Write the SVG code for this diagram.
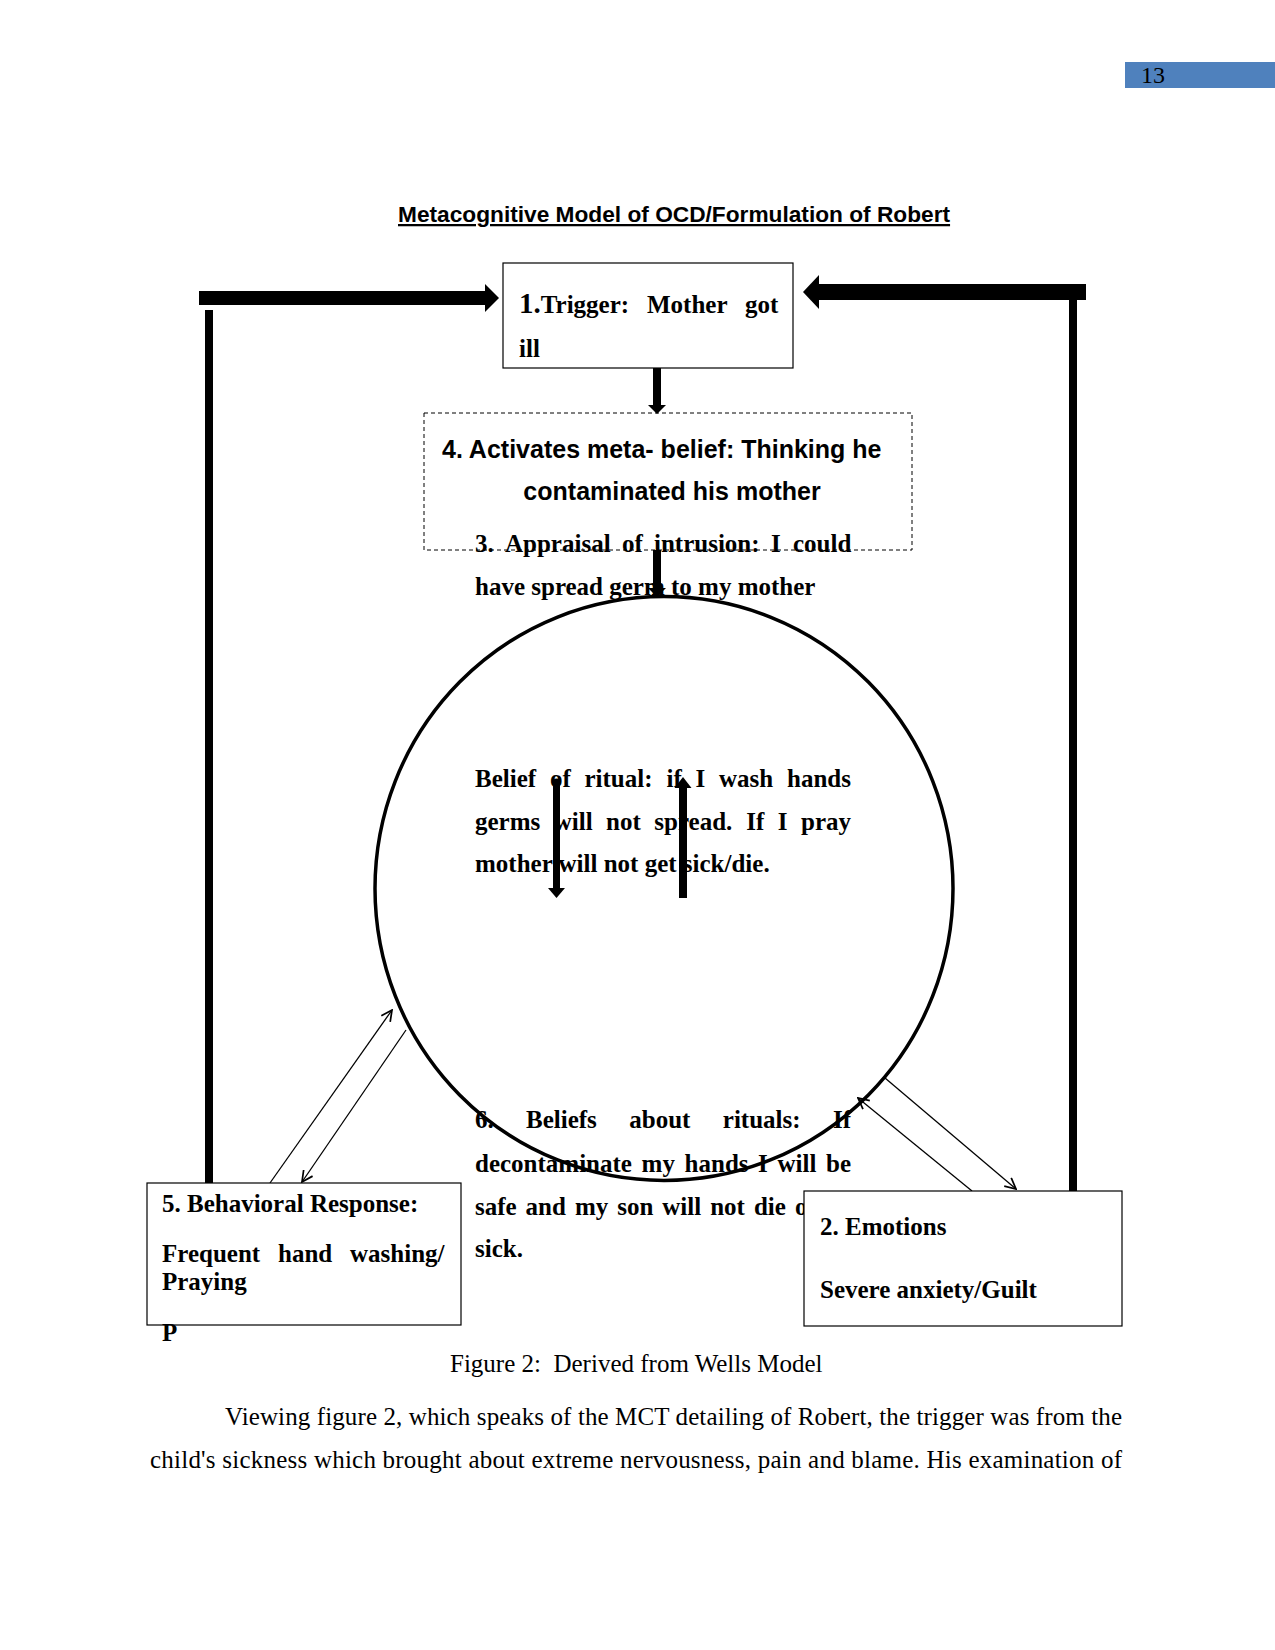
<svg xmlns="http://www.w3.org/2000/svg" width="1275" height="1650" viewBox="0 0 1275 1650">
<defs>
<style>
.sb{font-family:"Liberation Serif","Times New Roman",serif;font-weight:bold;font-size:25px;fill:#000}
.sr{font-family:"Liberation Serif","Times New Roman",serif;font-size:25px;fill:#000}
.ab{font-family:"Liberation Sans",Arial,sans-serif;font-weight:bold;font-size:25px;fill:#000}
.box{fill:#fff;stroke:#000;stroke-width:1.2}
.thin{fill:none;stroke:#000;stroke-width:1.3}
.bar{fill:#000}
</style>
<marker id="open" viewBox="0 0 12 12" refX="11" refY="6" markerWidth="13" markerHeight="13" markerUnits="userSpaceOnUse" orient="auto">
<path d="M1,1 L11,6 L1,11" fill="none" stroke="#000" stroke-width="1.6"/>
</marker>
</defs>
<rect width="1275" height="1650" fill="#fff"/>

<g id="page-number">
<rect x="1125" y="62" width="150" height="26" fill="#4F81BD"/>
<text x="1141" y="83" class="sr" style="font-size:24px">13</text>
</g>

<g id="title">
<text x="398" y="222" class="ab" style="font-size:22.7px;text-decoration:underline">Metacognitive Model of OCD/Formulation of Robert</text>
</g>

<g id="node-metabelief">
<rect x="424" y="413" width="488" height="137" fill="none" stroke="#000" stroke-width="1" stroke-dasharray="4 3"/>
<text x="442" y="458" class="ab">4. Activates meta- belief: Thinking he</text>
<text x="672" y="500" class="ab" text-anchor="middle">contaminated his mother</text>
</g>

<g id="node-appraisal" class="sb">
<text x="475" y="552">3.</text>
<text x="505" y="552">Appraisal</text>
<text x="622" y="552">of</text>
<text x="654" y="552">intrusion:</text>
<text x="771" y="552">I</text>
<text x="793" y="552">could</text>
<text x="475" y="595">have spread germ to my mother</text>
</g>

<g id="node-ritual-belief" class="sb">
<text x="475" y="787">Belief</text>
<text x="550" y="787">of</text>
<text x="584.5" y="787">ritual:</text>
<text x="666.5" y="787">if</text>
<text x="695.5" y="787">I</text>
<text x="719" y="787">wash</text>
<text x="787" y="787">hands</text>
<text x="475" y="830">germs</text>
<text x="553.7" y="830">will</text>
<text x="606" y="830">not</text>
<text x="654.3" y="830">spread.</text>
<text x="746.3" y="830">If</text>
<text x="777.8" y="830">I</text>
<text x="801" y="830">pray</text>
<text x="475" y="872">mother will not get sick/die.</text>
</g>

<g id="node-rituals-beliefs" class="sb">
<text x="475" y="1128">6.</text>
<text x="526" y="1128">Beliefs</text>
<text x="629.3" y="1128">about</text>
<text x="722.8" y="1128">rituals:</text>
<text x="833" y="1128">If</text>
<text x="475" y="1172">decontaminate</text>
<text x="641.6" y="1172">my</text>
<text x="684.6" y="1172">hands</text>
<text x="758" y="1172">I</text>
<text x="777.5" y="1172">will</text>
<text x="826" y="1172">be</text>
<text x="475" y="1215">safe</text>
<text x="525.6" y="1215">and</text>
<text x="574.9" y="1215">my</text>
<text x="617.2" y="1215">son</text>
<text x="662.3" y="1215">will</text>
<text x="710.2" y="1215">not</text>
<text x="753.9" y="1215">die</text>
<text x="794.9" y="1215">or</text>
<text x="475" y="1257">sick.</text>
</g>

<g id="node-circle">
<ellipse cx="664" cy="888.5" rx="289" ry="292" fill="none" stroke="#000" stroke-width="3.5"/>
</g>

<g id="connectors">
<rect class="bar" x="199" y="291" width="287" height="14"/>
<polygon class="bar" points="485,284 499,298 485,312"/>
<rect class="bar" x="205" y="310" width="8" height="873"/>
<rect class="bar" x="818" y="284" width="268" height="16"/>
<polygon class="bar" points="819,275 803,292 819,309"/>
<rect class="bar" x="1069" y="300" width="8" height="891"/>
<rect class="bar" x="653" y="368" width="8" height="38"/>
<polygon class="bar" points="648,405 666,405 657,414"/>
<rect class="bar" x="653" y="550" width="8" height="39"/>
<polygon class="bar" points="648,588 666,588 657,597"/>
<rect class="bar" x="553" y="781" width="7" height="108"/>
<circle class="bar" cx="556.5" cy="782" r="3.5"/>
<polygon class="bar" points="548,888 565,888 556.5,898"/>
<rect class="bar" x="679" y="787" width="8" height="111"/>
<polygon class="bar" points="674.5,788 691.5,788 683,777"/>
<line class="thin" x1="270" y1="1183" x2="392" y2="1010" marker-end="url(#open)"/>
<line class="thin" x1="406" y1="1030" x2="302" y2="1182" marker-end="url(#open)"/>
<line class="thin" x1="885" y1="1078" x2="1016" y2="1189" marker-end="url(#open)"/>
<line class="thin" x1="972" y1="1191" x2="858" y2="1098" marker-end="url(#open)"/>
</g>

<g id="node-trigger">
<rect class="box" x="503" y="263" width="290" height="105"/>
<text x="519" y="313" class="sb"><tspan style="font-size:29px">1.</tspan>Trigger:</text>
<text x="647" y="313" class="sb">Mother</text>
<text x="745" y="313" class="sb">got</text>
<text x="519" y="357" class="sb">ill</text>
</g>

<g id="node-behavior">
<rect class="box" x="147" y="1183" width="314" height="142"/>
<text x="162" y="1212" class="sb">5. Behavioral Response:</text>
<text x="162" y="1262" class="sb">Frequent</text>
<text x="278" y="1262" class="sb">hand</text>
<text x="350" y="1262" class="sb">washing/</text>
<text x="162" y="1290" class="sb">Praying</text>
<text x="162" y="1341" class="sb">P</text>
</g>

<g id="node-emotions">
<rect class="box" x="804" y="1191" width="318" height="135"/>
<text x="820" y="1235" class="sb">2. Emotions</text>
<text x="820" y="1298" class="sb">Severe anxiety/Guilt</text>
</g>

<g id="caption">
<text x="450" y="1372" class="sr" style="white-space:pre">Figure 2:  Derived from Wells Model</text>
</g>

<g id="body-text">
<text x="225" y="1425" class="sr" textLength="897" lengthAdjust="spacing">Viewing figure 2, which speaks of the MCT detailing of Robert, the trigger was from the</text>
<text x="150" y="1468" class="sr" textLength="972" lengthAdjust="spacing">child's sickness which brought about extreme nervousness, pain and blame. His examination of</text>
</g>
</svg>
